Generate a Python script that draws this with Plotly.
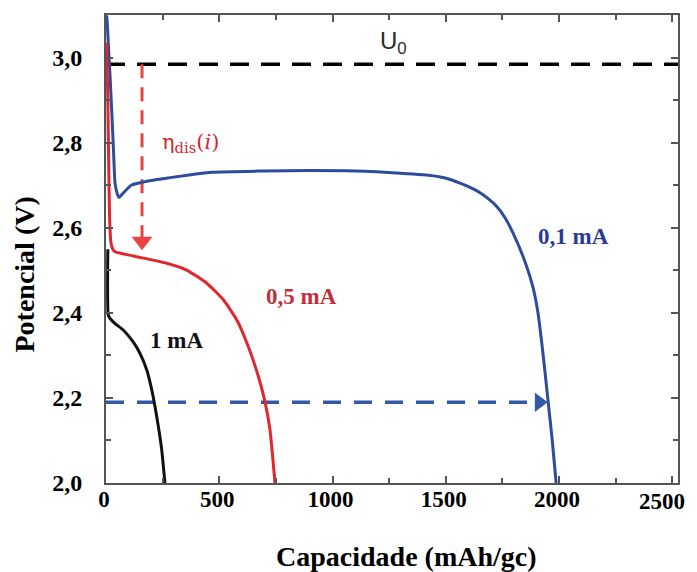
import plotly.graph_objects as go

# 0,1 mA (blue)
cap_01 = [0, 3, 10, 18, 25, 33, 40, 50, 57, 69, 113, 172, 319, 467, 700, 900, 1100, 1300, 1400, 1475, 1520, 1560, 1600, 1651, 1690, 1726, 1760, 1797, 1850, 1885, 1907, 1930, 1951, 1970, 1987]
pot_01 = [3.10, 3.097, 3.035, 2.956, 2.878, 2.784, 2.705, 2.68, 2.672, 2.678, 2.701, 2.709, 2.721, 2.731, 2.734, 2.735, 2.734, 2.729, 2.725, 2.72, 2.714, 2.706, 2.697, 2.683, 2.668, 2.65, 2.625, 2.588, 2.52, 2.46, 2.40, 2.30, 2.195, 2.10, 2.0]

# 0,5 mA (red)
cap_05 = [3, 8, 12, 16, 22, 30, 40, 121, 268, 356, 445, 518, 577, 628, 673, 702, 724, 736, 746]
pot_05 = [3.035, 2.90, 2.75, 2.62, 2.565, 2.550, 2.544, 2.534, 2.517, 2.501, 2.47, 2.431, 2.384, 2.321, 2.25, 2.191, 2.125, 2.06, 2.0]

# 1 mA (black)
cap_1 = [8, 10, 18, 40, 76, 120, 150, 180, 202, 224, 246, 260]
pot_1 = [2.55, 2.395, 2.387, 2.375, 2.36, 2.332, 2.305, 2.266, 2.219, 2.156, 2.078, 2.0]

# reference lines / arrows
u0_x = [0, 2525]
u0_y = [2.985, 2.985]
eta_x = [159, 159]
eta_y = [2.985, 2.575]
eta_head = [159, 2.569]
cap_arrow_x = [0, 1912]
cap_arrow_y = [2.19, 2.19]
cap_head = [1912, 2.19]

x_tickvals = [0, 500, 1000, 1500, 2000, 2500]
x_ticktext = ["0", "500", "1000", "1500", "2000", "2500"]
y_tickvals = [2.0, 2.2, 2.4, 2.6, 2.8, 3.0]
y_ticktext = ["2,0", "2,2", "2,4", "2,6", "2,8", "3,0"]

BLUE = "#2d4c9e"
RED = "#e2262e"
BLACK = "#111111"

fig = go.Figure()

fig.add_trace(go.Scatter(x=u0_x, y=u0_y, mode="lines",
                         line=dict(color="black", width=3.5, dash="19px,12px"), hoverinfo="skip"))
fig.add_trace(go.Scatter(x=eta_x, y=eta_y, mode="lines",
                         line=dict(color="#e8433f", width=3, dash="14px,9px"), hoverinfo="skip"))
fig.add_trace(go.Scatter(x=[eta_head[0]], y=[eta_head[1]], mode="markers",
                         marker=dict(symbol="triangle-down", size=18, color="#e8433f"), hoverinfo="skip"))
fig.add_trace(go.Scatter(x=cap_arrow_x, y=cap_arrow_y, mode="lines",
                         line=dict(color="#3458a8", width=3.5, dash="18px,13px"), hoverinfo="skip"))
fig.add_trace(go.Scatter(x=[cap_head[0]], y=[cap_head[1]], mode="markers",
                         marker=dict(symbol="triangle-right", size=17, color="#3458a8"), hoverinfo="skip"))

fig.add_trace(go.Scatter(x=cap_01, y=pot_01, mode="lines", line=dict(color=BLUE, width=3, shape="spline", smoothing=0.6)))
fig.add_trace(go.Scatter(x=cap_05, y=pot_05, mode="lines", line=dict(color=RED, width=3, shape="spline", smoothing=0.5)))
fig.add_trace(go.Scatter(x=cap_1, y=pot_1, mode="lines", line=dict(color=BLACK, width=3, shape="spline", smoothing=0.5)))

serif = "Liberation Serif, Times New Roman, serif"

annotations = [
    dict(x=1270, y=3.036, text="U<sub>0</sub>", font=dict(family="Liberation Sans, Arial", size=24, color="#2a2a2a")),
    dict(x=375, y=2.80, text="η<sub>dis</sub>(<i>i</i>)", font=dict(family="DejaVu Serif, serif", size=21, color="#d02a34")),
    dict(x=2062, y=2.579, text="<b>0,1 mA</b>", font=dict(family=serif, size=23, color="#2a3a96")),
    dict(x=861, y=2.438, text="<b>0,5 mA</b>", font=dict(family=serif, size=23, color="#c0303a")),
    dict(x=309, y=2.336, text="<b>1 mA</b>", font=dict(family=serif, size=23, color="#111111")),
]
for a in annotations:
    a.update(xref="x", yref="y", showarrow=False)

# last x tick label is placed so it stays inside the picture (as in the reference)
annotations.append(dict(xref="paper", yref="paper", x=1, y=-0.0385, xanchor="right", yanchor="middle",
                        xshift=9, text="<b>" + x_ticktext[-1] + "</b>", showarrow=False,
                        font=dict(family=serif, size=23, color="black")))

# axis titles
annotations.append(dict(xref="paper", yref="paper", x=0.526, y=-0.156, xanchor="center", yanchor="middle",
                        text="<b>Capacidade (mAh/gc)</b>", showarrow=False,
                        font=dict(family=serif, size=28, color="black")))
annotations.append(dict(xref="paper", yref="paper", x=-0.142, y=0.445, xanchor="center", yanchor="middle",
                        text="<b>Potencial (V)</b>", showarrow=False, textangle=-90,
                        font=dict(family=serif, size=28, color="black")))

# page body has an 8px margin, so the figure is sized/positioned to compensate
fig.update_layout(
    width=689, height=564,
    margin=dict(l=98, r=19, t=7, b=89, autoexpand=False),
    paper_bgcolor="white", plot_bgcolor="white",
    showlegend=False,
    annotations=annotations,
    font=dict(family=serif, color="black"),
)
fig.update_xaxes(
    range=[0, 2525], tickvals=x_tickvals, ticktext=x_ticktext[:-1] + [""], automargin=False,
    ticks="inside", ticklen=7, tickwidth=2, tickcolor="#555",
    minor=dict(dtick=250, tick0=0, ticks="inside", ticklen=5, tickcolor="#555", tickwidth=1.5),
    showline=True, linecolor="#555", linewidth=2, mirror="allticks",
    showgrid=False, zeroline=False, ticklabelstandoff=-6, ticklabeloverflow="allow",
    ticklabelshift=-2,
    tickfont=dict(family=serif, size=23, color="black", weight="bold"),
)
fig.update_yaxes(
    range=[2.0, 3.101], tickvals=y_tickvals, ticktext=y_ticktext, automargin=False,
    ticks="inside", ticklen=7, tickwidth=2, tickcolor="#555",
    minor=dict(dtick=0.1, tick0=2.0, ticks="inside", ticklen=5, tickcolor="#555", tickwidth=1.5),
    showline=True, linecolor="#555", linewidth=2, mirror="allticks",
    showgrid=False, zeroline=False, ticklabelstandoff=17, ticklabeloverflow="allow",
    tickfont=dict(family=serif, size=24, color="black", weight="bold"),
)

fig.write_html("out.html")
